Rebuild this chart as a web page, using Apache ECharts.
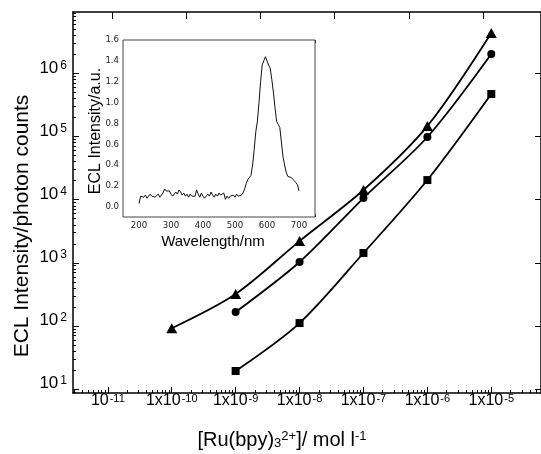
<!DOCTYPE html>
<html>
<head>
<meta charset="utf-8">
<script src="https://cdn.jsdelivr.net/npm/echarts@6/dist/echarts.min.js"></script>
<style>
  html, body { margin: 0; padding: 0; background: #fff; }
  #chart { width: 541px; height: 454px; }
</style>
</head>
<body>
<div id="chart"></div>
<script>
// [Ru(bpy)3]2+ concentration (mol/l) vs ECL photon counts
const concentrations = [1e-10, 1e-9, 1e-8, 1e-7, 1e-6, 1e-5];
const triangleCounts = [92, 321, 2210, 14250, 147000, 4.39e6];
const circleCounts = [null, 166, 1030, 10640, 98600, 2.04e6];
const squareCounts = [null, 19.3, 111, 1430, 20500, 4.73e5];

const xTickExps = [-11, -10, -9, -8, -7, -6, -5];
const xTickPrefix = ['10', '1x10', '1x10', '1x10', '1x10', '1x10', '1x10'];
const yTickExps = [1, 2, 3, 4, 5, 6];
const topTicks = [0, 1, 2, 3, 4, 5];

// inset: ECL spectrum
const wavelengths = [
  200, 205, 210, 215, 220, 225, 230, 235, 240, 245, 250, 255, 260, 265, 270, 275, 280, 285, 290, 295,
  300, 305, 310, 315, 320, 325, 330, 335, 340, 345, 350, 355, 360, 365, 370, 375, 380, 385, 390, 395,
  400, 405, 410, 415, 420, 425, 430, 435, 440, 445, 450, 455, 460, 465, 470, 475, 480, 485, 490, 495,
  500, 505, 510, 515, 520, 525, 530, 535, 540, 545, 550, 555, 560, 565, 570, 575, 580, 585, 590, 595,
  600, 605, 610, 615, 620, 625, 630, 635, 640, 645, 650, 655, 660, 665, 670, 675, 680, 685, 690, 695, 700
];
const intensity = [
  0.03, 0.10, 0.11, 0.09, 0.11, 0.08, 0.10, 0.12, 0.10, 0.11, 0.09, 0.10, 0.12, 0.09, 0.10, 0.13, 0.17, 0.15, 0.14, 0.15,
  0.12, 0.10, 0.11, 0.14, 0.12, 0.16, 0.14, 0.11, 0.13, 0.10, 0.12, 0.09, 0.12, 0.10, 0.11, 0.10, 0.16, 0.12, 0.09, 0.13,
  0.10, 0.08, 0.07, 0.12, 0.10, 0.14, 0.11, 0.09, 0.12, 0.10, 0.13, 0.11, 0.12, 0.13, 0.07, 0.10, 0.08, 0.10, 0.09, 0.11,
  0.09, 0.12, 0.10, 0.09, 0.11, 0.13, 0.17, 0.22, 0.26, 0.28, 0.30, 0.40, 0.55, 0.72, 0.82, 1.00, 1.20, 1.36, 1.40, 1.44,
  1.45, 1.36, 1.33, 1.22, 1.10, 0.95, 0.82, 0.79, 0.76, 0.62, 0.48, 0.40, 0.33, 0.29, 0.28, 0.28, 0.27, 0.25, 0.23, 0.21, 0.15
];
const insetXLabels = [200, 300, 400, 500, 600, 700];
const insetYTicks = [0, 0.2, 0.4, 0.6, 0.8, 1.0, 1.2, 1.4, 1.6];

const font = '"Liberation Sans", Arial, sans-serif';
const narrow = '"Liberation Sans Narrow", "DejaVu Sans Condensed", sans-serif';

const xMin = Math.pow(10, -11.545), xMax = Math.pow(10, -4.222);
const yMin = Math.pow(10, 0.937), yMax = Math.pow(10, 6.975);

const minorX = [], minorY = [];
for (let k = -12; k <= -5; k++) for (let m = 2; m <= 9; m++) minorX.push(m * Math.pow(10, k));
for (let k = 0; k <= 6; k++) for (let m = 2; m <= 9; m++) minorY.push(m * Math.pow(10, k));

const pairs = counts => concentrations.map((c, i) => [c, counts[i]]).filter(p => p[1] != null);
const expOf = v => Math.round(Math.log10(v));

const hidden = { show: false };
const noLine = { show: false, onZero: false };
const black = { onZero: false, lineStyle: { color: '#000', width: 1.5 } };

let myChart = echarts.init(document.getElementById('chart'), null, { renderer: 'canvas' });
myChart.setOption({
  animation: false,
  backgroundColor: '#fff',
  grid: [
    { left: 73, top: 12, right: -2, bottom: 61 },
    { left: 123, top: 40, right: 226, bottom: 237, show: true, backgroundColor: '#fff', borderColor: '#444', borderWidth: 1, z: 5 }
  ],
  xAxis: [
    {
      type: 'log', gridIndex: 0, position: 'bottom', min: xMin, max: xMax,
      axisLine: black,
      axisTick: { inside: true, length: 6, customValues: xTickExps.map(e => Math.pow(10, e)), lineStyle: { color: '#000' } },
      axisLabel: {
        customValues: xTickExps.map(e => Math.pow(10, e)),
        margin: 0,
        formatter: v => '{b|' + xTickPrefix[xTickExps.indexOf(expOf(v))] + '}{s|' + expOf(v) + '}',
        rich: {
          b: { fontSize: 16, fontFamily: font, color: '#000', lineHeight: 16, verticalAlign: 'bottom' },
          s: { fontSize: 11, fontFamily: font, color: '#000', lineHeight: 11, verticalAlign: 'top', padding: [0, 0, 9, 1] }
        }
      },
      splitLine: hidden
    },
    {
      type: 'log', gridIndex: 0, position: 'bottom', min: xMin, max: xMax,
      axisLine: noLine, axisLabel: hidden, splitLine: hidden,
      axisTick: { inside: true, length: 3, customValues: minorX, lineStyle: { color: '#000' } }
    },
    {
      type: 'value', gridIndex: 0, position: 'top', min: -0.523, max: 5.777,
      axisLine: black, axisLabel: hidden, splitLine: hidden,
      axisTick: { inside: true, length: 7, customValues: topTicks, lineStyle: { color: '#000' } }
    },
    {
      type: 'value', gridIndex: 1, position: 'bottom', min: 150, max: 750, interval: 50,
      axisLine: noLine, splitLine: hidden,
      axisTick: { inside: true, length: 3, lineStyle: { color: '#333' } },
      axisLabel: { customValues: insetXLabels, margin: 4, fontSize: 9.5, fontFamily: narrow, color: '#222' }
    },
    {
      type: 'value', gridIndex: 1, position: 'top', min: 150, max: 750, interval: 50,
      axisLine: noLine, splitLine: hidden, axisLabel: hidden,
      axisTick: { inside: true, length: 3, lineStyle: { color: '#333' } }
    }
  ],
  yAxis: [
    {
      type: 'log', gridIndex: 0, position: 'left', min: yMin, max: yMax,
      axisLine: black,
      axisTick: { inside: true, length: 6, customValues: yTickExps.map(e => Math.pow(10, e)), lineStyle: { color: '#000' } },
      axisLabel: {
        customValues: yTickExps.map(e => Math.pow(10, e)),
        margin: 6,
        padding: [0, 0, 11, 0],
        formatter: v => '{b|10}{s|' + expOf(v) + '}',
        rich: {
          b: { fontSize: 17, fontFamily: font, color: '#000', lineHeight: 17, verticalAlign: 'bottom' },
          s: { fontSize: 12, fontFamily: font, color: '#000', lineHeight: 12, verticalAlign: 'top', padding: [0, 0, 7, 2] }
        }
      },
      splitLine: hidden
    },
    {
      type: 'log', gridIndex: 0, position: 'left', min: yMin, max: yMax,
      axisLine: noLine, axisLabel: hidden, splitLine: hidden,
      axisTick: { inside: true, length: 3, customValues: minorY, lineStyle: { color: '#000' } }
    },
    {
      type: 'log', gridIndex: 0, position: 'right', min: yMin, max: yMax,
      axisLine: black, axisLabel: hidden, splitLine: hidden,
      axisTick: { inside: true, length: 6, customValues: yTickExps.map(e => Math.pow(10, e)), lineStyle: { color: '#000' } }
    },
    {
      type: 'value', gridIndex: 1, position: 'left', min: -0.1, max: 1.6,
      axisLine: noLine, splitLine: hidden,
      axisTick: { inside: true, length: 3, customValues: insetYTicks, lineStyle: { color: '#333' } },
      axisLabel: { customValues: insetYTicks, margin: 4, fontSize: 9.5, fontFamily: narrow, color: '#222', formatter: v => v.toFixed(1) }
    },
    {
      type: 'value', gridIndex: 1, position: 'right', min: -0.1, max: 1.6,
      axisLine: noLine, splitLine: hidden, axisLabel: hidden,
      axisTick: { inside: true, length: 3, customValues: insetYTicks, lineStyle: { color: '#333' } }
    }
  ],
  series: [
    { name: 'triangle', data: pairs(triangleCounts), symbol: 'triangle', symbolSize: [11, 10] },
    { name: 'circle', data: pairs(circleCounts), symbol: 'circle', symbolSize: 8 },
    { name: 'square', data: pairs(squareCounts), symbol: 'rect', symbolSize: 8 }
  ].map(obj => ({
    ...obj,
    type: 'line',
    xAxisIndex: 0,
    yAxisIndex: 0,
    smooth: 0.3,
    showAllSymbol: true,
    itemStyle: { color: '#000' },
    lineStyle: { color: '#000', width: 1.8 }
  })).concat([{
    type: 'line',
    xAxisIndex: 3,
    yAxisIndex: 3,
    data: wavelengths.map((w, i) => [w, intensity[i]]),
    symbol: 'none',
    z: 10,
    lineStyle: { color: '#111', width: 1 }
  }]),
  graphic: [
    {
      type: 'text', x: 22, y: 226, rotation: Math.PI / 2,
      style: { text: 'ECL Intensity/photon counts', fontSize: 21, fontFamily: font, fill: '#000', align: 'center', verticalAlign: 'middle' }
    },
    {
      type: 'text', x: 282, y: 440,
      style: {
        text: '{r|[Ru(bpy)}{sub|3}{sup|2+}{r|]/ mol l}{sup|-1}',
        align: 'center', verticalAlign: 'middle', fill: '#000',
        rich: {
          r: { fontSize: 20, fontFamily: font, fill: '#000', lineHeight: 20, verticalAlign: 'top' },
          sub: { fontSize: 13, fontFamily: font, fill: '#000', lineHeight: 13, verticalAlign: 'bottom', padding: [14, 0, 0, 0] },
          sup: { fontSize: 13, fontFamily: font, fill: '#000', lineHeight: 13, verticalAlign: 'top' }
        }
      }
    },
    {
      type: 'text', x: 96, y: 131, rotation: Math.PI / 2, z: 10,
      style: { text: 'ECL Intensity/a.u.', fontSize: 16, fontFamily: font, fill: '#000', align: 'center', verticalAlign: 'middle' }
    },
    {
      type: 'text', x: 213, y: 242, z: 10,
      style: { text: 'Wavelength/nm', fontSize: 15, fontFamily: font, fill: '#000', align: 'center', verticalAlign: 'middle' }
    }
  ]
});
</script>
</body>
</html>
